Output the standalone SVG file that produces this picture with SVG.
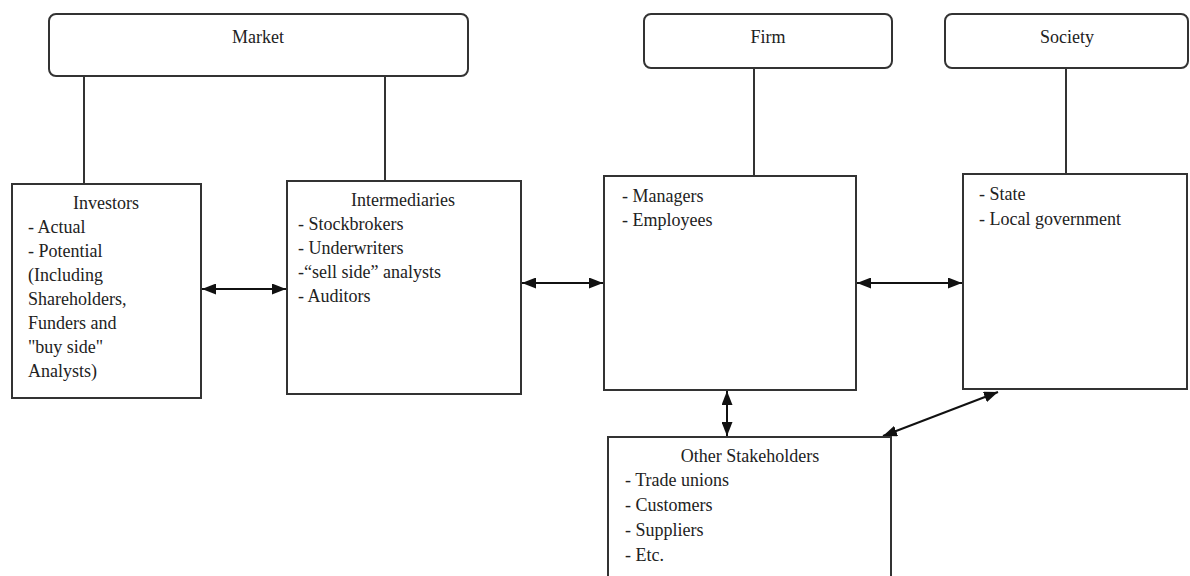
<svg xmlns="http://www.w3.org/2000/svg" width="1190" height="576" viewBox="0 0 1190 576">
<style>
.box{fill:#fff;stroke:#333;stroke-width:2}
.hdr{fill:#fff;stroke:#333;stroke-width:2}
.t{font-family:"Liberation Serif","Times New Roman",serif;font-size:18px;fill:#222}
.c{text-anchor:middle}
.ln{stroke:#333;stroke-width:2;fill:none}
.ar{stroke:#111;stroke-width:2;fill:none;marker-start:url(#ah);marker-end:url(#ah)}
</style>
<defs>
<marker id="ah" viewBox="0 0 14 11" refX="14" refY="5.5" markerWidth="14" markerHeight="11" markerUnits="userSpaceOnUse" orient="auto-start-reverse">
<path d="M0,0 L14,5.5 L0,11 z" fill="#111"/>
</marker>
</defs>
<rect width="1190" height="576" fill="#fff"/>
<g id="connectors">
<line class="ln" x1="84" y1="76" x2="84" y2="184"/>
<line class="ln" x1="385" y1="76" x2="385" y2="181"/>
<line class="ln" x1="754" y1="68" x2="754" y2="176"/>
<line class="ln" x1="1066" y1="68" x2="1066" y2="174"/>
<line class="ar" x1="202" y1="289" x2="286" y2="289"/>
<line class="ar" x1="522" y1="283" x2="603" y2="283"/>
<line class="ar" x1="857" y1="283" x2="962" y2="283"/>
<line class="ar" x1="727" y1="391" x2="727" y2="436"/>
<line class="ar" x1="883" y1="436" x2="998" y2="392"/>
</g>
<g id="market">
<rect class="hdr" x="49" y="14" width="419" height="62" rx="7"/>
<text class="t c" x="258" y="43">Market</text>
</g>
<g id="firm">
<rect class="hdr" x="644" y="14" width="248" height="54" rx="7"/>
<text class="t c" x="768" y="43">Firm</text>
</g>
<g id="society">
<rect class="hdr" x="945" y="14" width="243" height="54" rx="7"/>
<text class="t c" x="1067" y="43">Society</text>
</g>
<g id="investors">
<rect class="box" x="12" y="184" width="189" height="214"/>
<text class="t c" x="106" y="209">Investors</text>
<text class="t" x="28" y="233">- Actual</text>
<text class="t" x="28" y="257">- Potential</text>
<text class="t" x="28" y="281">(Including</text>
<text class="t" x="28" y="305">Shareholders,</text>
<text class="t" x="28" y="329">Funders and</text>
<text class="t" x="28" y="353">"buy side"</text>
<text class="t" x="28" y="377">Analysts)</text>
</g>
<g id="intermediaries">
<rect class="box" x="287" y="181" width="234" height="213"/>
<text class="t c" x="403" y="206">Intermediaries</text>
<text class="t" x="298" y="230">- Stockbrokers</text>
<text class="t" x="298" y="254">- Underwriters</text>
<text class="t" x="298" y="278">-“sell side” analysts</text>
<text class="t" x="298" y="302">- Auditors</text>
</g>
<g id="firm-members">
<rect class="box" x="604" y="176" width="252" height="214"/>
<text class="t" x="622" y="202">- Managers</text>
<text class="t" x="622" y="226">- Employees</text>
</g>
<g id="society-members">
<rect class="box" x="963" y="174" width="224" height="215"/>
<text class="t" x="979" y="200">- State</text>
<text class="t" x="979" y="225">- Local government</text>
</g>
<g id="other-stakeholders">
<rect class="box" x="608" y="437" width="283" height="160"/>
<text class="t c" x="750" y="462">Other Stakeholders</text>
<text class="t" x="625" y="486">- Trade unions</text>
<text class="t" x="625" y="511">- Customers</text>
<text class="t" x="625" y="536">- Suppliers</text>
<text class="t" x="625" y="561">- Etc.</text>
</g>
</svg>
